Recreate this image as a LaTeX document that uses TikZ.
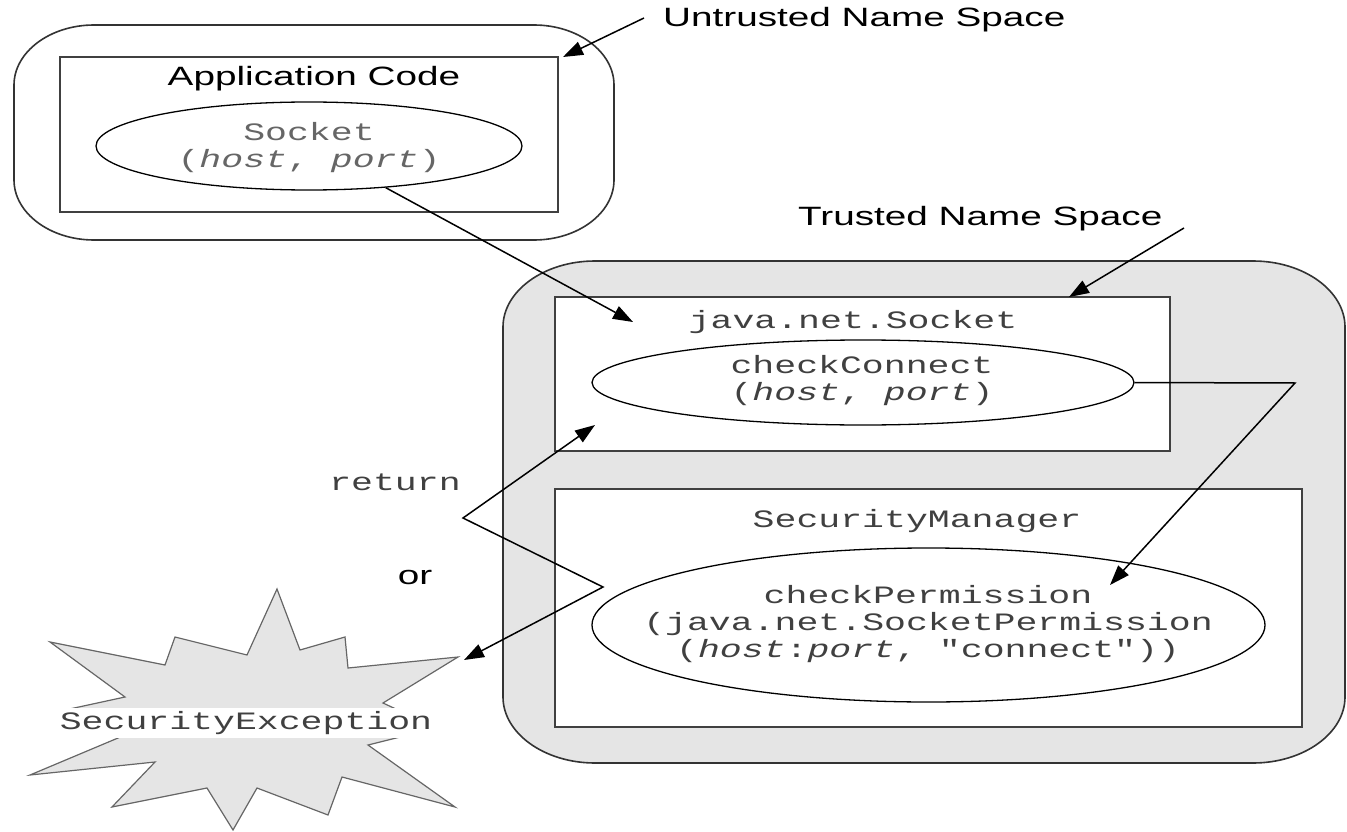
\documentclass[tikz,border=0pt]{standalone}
\usepackage{fontspec}
\usetikzlibrary{arrows.meta,shapes.geometric}
\newfontfamily\labfont[FakeStretch=1.46]{Liberation Sans}
\newfontfamily\codefont[FakeStretch=1.46]{Liberation Mono}
\begin{document}
\begin{tikzpicture}[x=1pt,y=-1pt,
  boxframe/.style={draw=black!75, line width=1.7pt, fill=white, rectangle, inner sep=0pt},
  oval/.style={draw=black, line width=1.3pt, ellipse, inner sep=0pt, fill=white},
  labtext/.style={font=\labfont\fontsize{26.5}{30}\selectfont, text=black, inner sep=0pt},
  codetext/.style={font=\codefont\fontsize{25}{27}\selectfont, text=black!75, inner sep=0pt, align=center},
  arr/.style={line width=1.5pt, -{Triangle[length=20pt,width=14pt]}},
  darr/.style={line width=1.5pt, {Triangle[length=20pt,width=14pt]}-{Triangle[length=20pt,width=14pt]}},
  region/.style={draw=black!80, line width=1.6pt},
  burst/.style={draw=black!60, line width=1.2pt, fill=gray!20, line join=miter}
]
\useasboundingbox (0,0) rectangle (1347,832);

% Untrusted name space region
\draw[region] (94,25) -- (534,25) .. controls (578,25) and (614,52) .. (614,85)
  -- (614,180) .. controls (614,213) and (578,240) .. (534,240)
  -- (94,240) .. controls (50,240) and (14,213) .. (14,180)
  -- (14,85) .. controls (14,52) and (50,25) .. (94,25) -- cycle;

% Trusted name space region
\draw[region, fill=gray!20] (595,261) -- (1253,261) .. controls (1304,261) and (1345,291) .. (1345,327)
  -- (1345,697) .. controls (1345,733) and (1304,763) .. (1253,763)
  -- (595,763) .. controls (544,763) and (503,733) .. (503,697)
  -- (503,327) .. controls (503,291) and (544,261) .. (595,261) -- cycle;

% boxes
\node[boxframe, minimum width=498pt, minimum height=155pt] (app) at (309,134.5) {};
\node[boxframe, minimum width=615pt, minimum height=154pt] (jns) at (862.5,374) {};
\node[boxframe, minimum width=747pt, minimum height=238pt] (sm) at (928.5,608) {};

% ellipses
\node[oval, minimum width=426pt, minimum height=88pt] (sock) at (309,146) {};
\node[oval, minimum width=542pt, minimum height=85pt] (cc) at (863,382.5) {};
\node[oval, minimum width=673pt, minimum height=154pt] (cp) at (928.5,625) {};

% texts
\node[labtext] (apptxt) at (314,79) {Application Code};
\node[codetext, text=black!60] (socktxt) at (309,148) {Socket\\(\textit{host}, \textit{port})};
\node[codetext] (jnstxt) at (853,322) {java.net.Socket};
\node[codetext] (cctxt) at (862,381) {checkConnect\\(\textit{host}, \textit{port})};
\node[codetext] (smtxt) at (917,521) {SecurityManager};
\node[codetext] (cptxt) at (928,624) {checkPermission\\(java.net.SocketPermission\\(\textit{host}:\textit{port}, "connect"))};

\node[labtext, anchor=base west] (ul) at (663,27) {Untrusted Name Space};
\node[labtext, anchor=base west] (tl) at (798,225) {Trusted Name Space};
\node[codetext, anchor=base] (ret) at (395,490) {return};
\node[labtext, anchor=base] (or) at (415,584) {or};

% starburst
\draw[burst] (277,589) -- (300,650) -- (345,637) -- (348,668) -- (458,657) -- (383,703)
  -- (398,710) -- (400,737) -- (368,745) -- (455,807) -- (342,777) -- (328,815)
  -- (257,788) -- (233,830) -- (207,788) -- (112,807) -- (155,762) -- (30,775)
  -- (118,738) -- (65,710) -- (125,697) -- (50,642) -- (165,665) -- (175,637)
  -- (247,655) -- cycle;
\node[codetext, fill=white, inner ysep=3pt] (exc) at (246,723) {SecurityException};

% coordinates for free ends
\coordinate (ulA) at (644,18);
\coordinate (utip) at (563,57);
\coordinate (tlA) at (1184,228);
\coordinate (ttip) at (1069,297);
\coordinate (jtip) at (633,322);
\coordinate (bend1) at (1295,383);
\coordinate (cptip) at (1110,585);
\coordinate (rtip) at (595,425);
\coordinate (zz1) at (463,518);
\coordinate (zz2) at (603,587);
\coordinate (etip) at (464,660);

% connectors
\draw[arr] (ulA) -- (utip);
\draw[arr] (tlA) -- (ttip);
\draw[arr] (sock) -- (jtip);
\draw[arr] (cc.east) -- (bend1) -- (cptip);
\draw[darr] (rtip) -- (zz1) -- (zz2) -- (etip);
\end{tikzpicture}
\end{document}
